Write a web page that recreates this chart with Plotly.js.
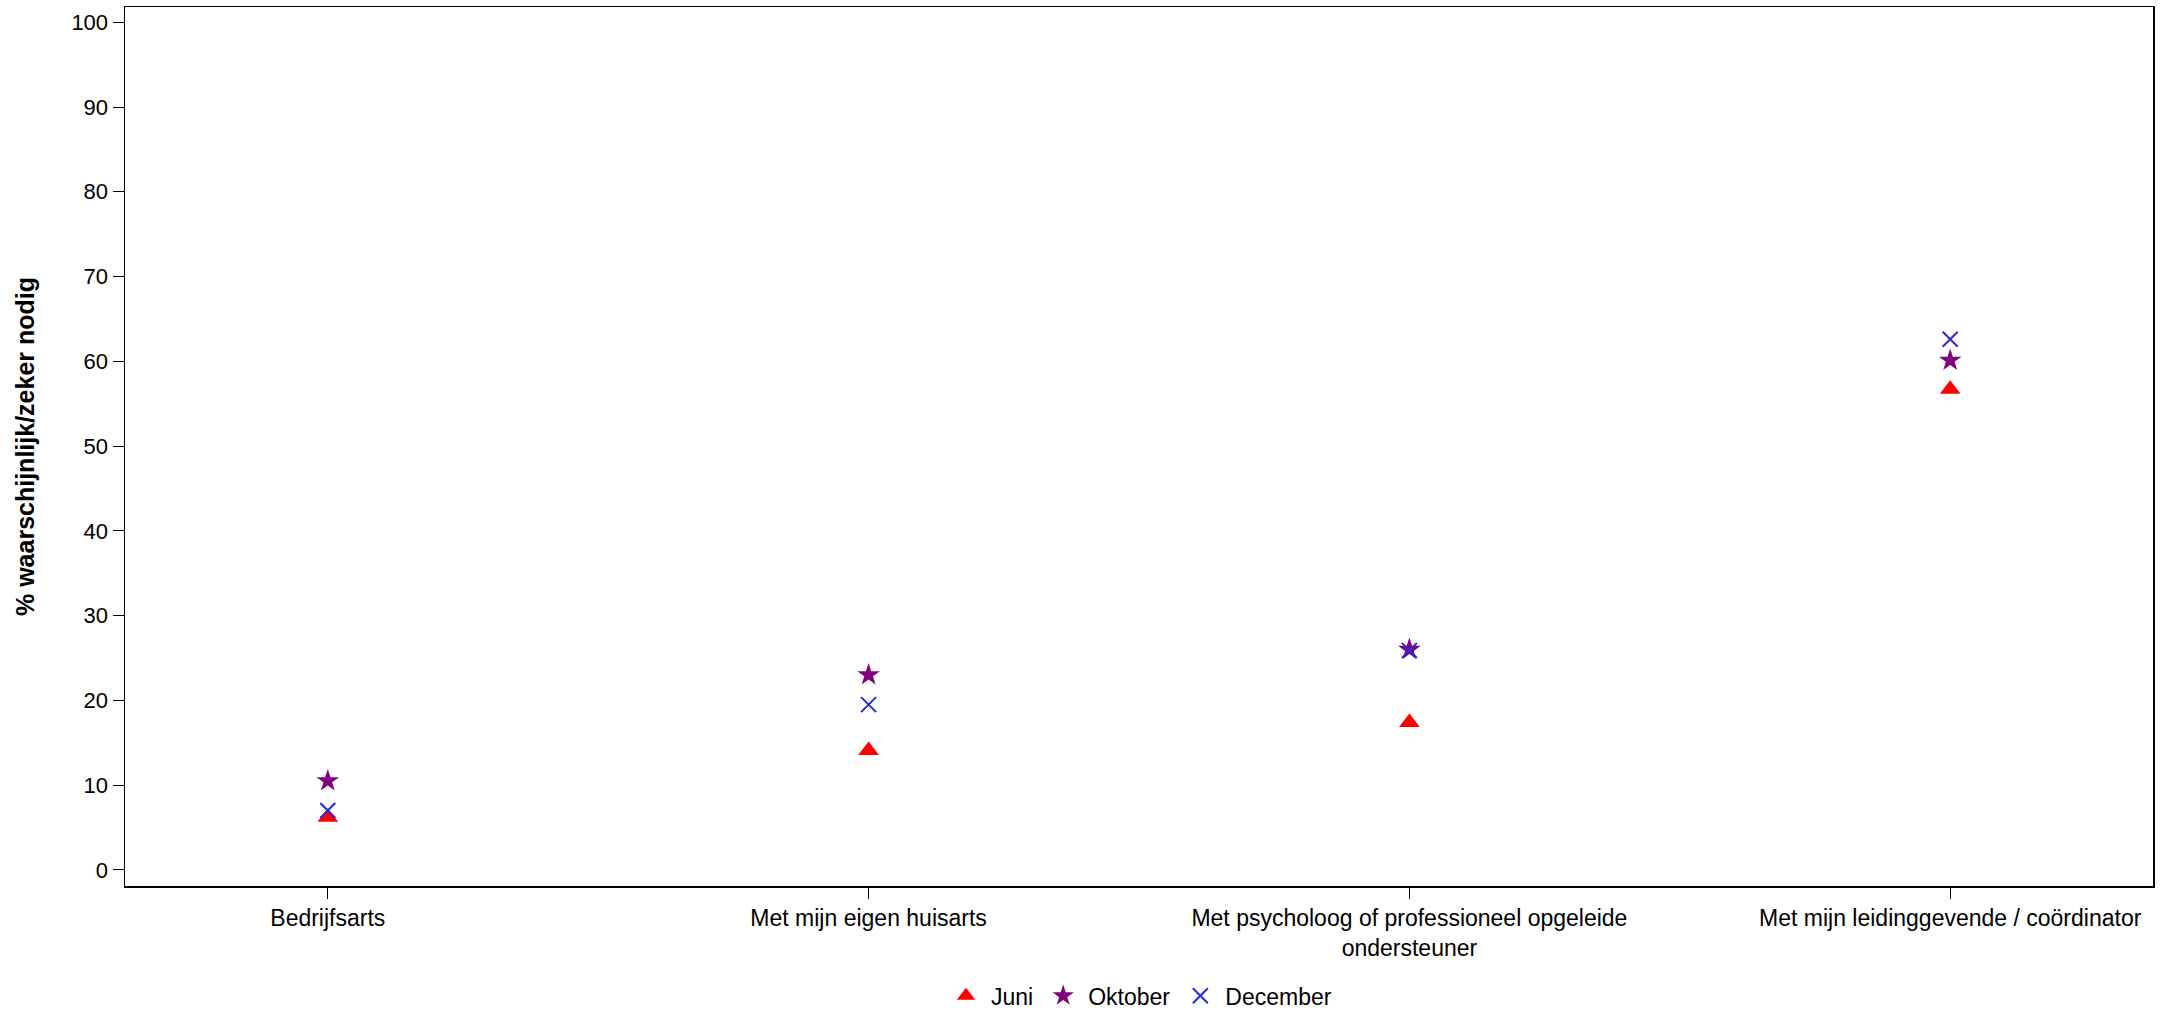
<!DOCTYPE html>
<html>
<head>
<meta charset="utf-8">
<script src="https://cdn.plot.ly/plotly-3.0.1.min.js"></script>
<style>html,body{margin:0;padding:0;background:#fff;}#chart{width:2170px;height:1010px;}</style>
</head>
<body>
<div id="chart"></div>
<script>
var categories = ["Bedrijfsarts", "Met mijn eigen huisarts", "Met psycholoog of professioneel opgeleide<br>ondersteuner", "Met mijn leidinggevende / coördinator"];
var juni = [6.2, 14.1, 17.4, 56.7];
var oktober = [10.5, 23.0, 26.0, 60.1];
var december = [7.0, 19.5, 25.9, 62.6];
var yTicks = [0, 10, 20, 30, 40, 50, 60, 70, 80, 90, 100];

var traces = [
  {x: categories, y: juni, name: "Juni", type: "scatter", mode: "markers",
   marker: {symbol: "triangle-up", size: 18, color: "#ff0000"}},
  {x: categories, y: oktober, name: "Oktober", type: "scatter", mode: "markers",
   marker: {symbol: "star", size: 17, color: "#800080"}},
  {x: categories, y: december, name: "December", type: "scatter", mode: "markers",
   marker: {symbol: "x-thin-open", size: 15, color: "#2a2ad0", line: {width: 2, color: "#2a2ad0"}}}
];

var layout = {
  width: 2170, height: 1010,
  margin: {l: 125, r: 17, t: 7, b: 124, autoexpand: false},
  paper_bgcolor: "#fff", plot_bgcolor: "#fff",
  font: {family: "Liberation Sans, Arial, sans-serif", size: 22, color: "#000"},
  showlegend: true,
  legend: {orientation: "h", x: 0.5, xanchor: "center", yref: "container", y: 0.014, yanchor: "middle",
           font: {size: 23}, itemwidth: 40, tracegroupgap: 0},
  xaxis: {type: "category", categoryorder: "array", categoryarray: categories,
          range: [-0.375, 3.375], showgrid: false, zeroline: false,
          showline: true, linecolor: "#000", linewidth: 1.5, mirror: true,
          ticks: "outside", ticklen: 11, tickcolor: "#000", tickwidth: 1,
          tickfont: {size: 23}, automargin: false},
  yaxis: {range: [-1.9, 101.8], tickvals: yTicks, showgrid: false, zeroline: false,
          showline: true, linecolor: "#000", linewidth: 1.5, mirror: true,
          ticks: "outside", ticklen: 11, tickcolor: "#000", tickwidth: 1,
          tickfont: {size: 22}, automargin: false,
          title: {text: "% waarschijnlijk/zeker nodig", font: {size: 25, weight: "bold"}, standoff: 29}}
};

Plotly.newPlot("chart", traces, layout, {displayModeBar: false, staticPlot: true});
</script>
</body>
</html>
